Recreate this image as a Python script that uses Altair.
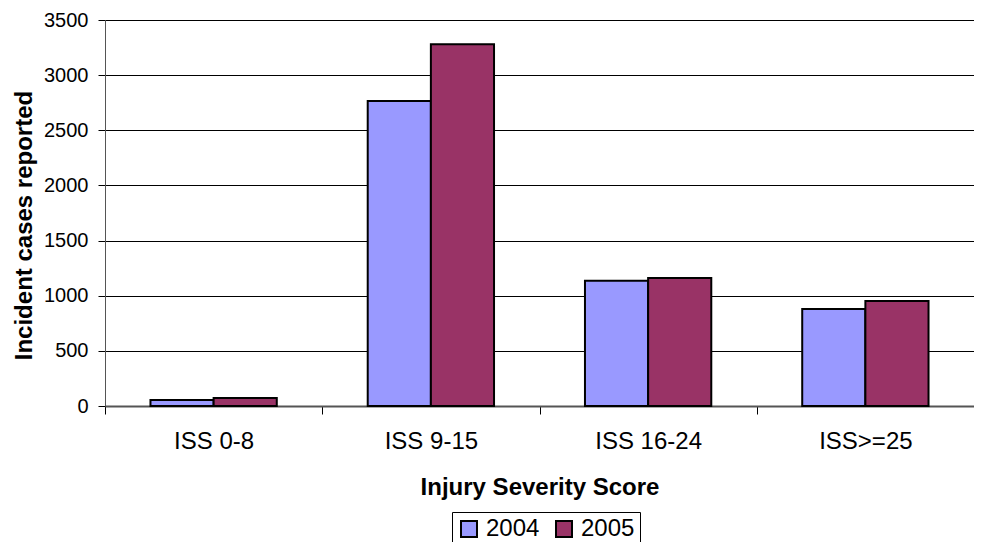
import altair as alt
import pandas as pd

categories = ["ISS 0-8", "ISS 9-15", "ISS 16-24", "ISS>=25"]
years = ["2004", "2005"]
values_2004 = [55, 2765, 1135, 880]
values_2005 = [72, 3280, 1160, 952]
y_ticks = [0, 500, 1000, 1500, 2000, 2500, 3000, 3500]
colors = ["#9999FF", "#993366"]

rows = []
for c, a, b in zip(categories, values_2004, values_2005):
    rows.append({"cat": c, "year": years[0], "value": a})
    rows.append({"cat": c, "year": years[1], "value": b})
df = pd.DataFrame(rows)

FONT = "Liberation Sans"

chart = alt.Chart(df).mark_bar(stroke="black", strokeWidth=2).encode(
    x=alt.X("cat:N", sort=categories,
            scale=alt.Scale(paddingInner=0, paddingOuter=0),
            axis=alt.Axis(title="Injury Severity Score", labelAngle=0,
                          tickBand="extent", tickSize=8, tickColor="black",
                          domainColor="#555555", domainWidth=2,
                          labelFont=FONT, labelFontSize=24, labelColor="black",
                          labelBaseline="alphabetic", labelPadding=34,
                          titleFont=FONT, titleFontSize=24, titleFontWeight="bold",
                          titleColor="black", titleBaseline="alphabetic",
                          titleY=88, grid=False)),
    xOffset=alt.XOffset("year:N", sort=years,
                        scale=alt.Scale(paddingInner=0, paddingOuter=0.72)),
    y=alt.Y("value:Q", scale=alt.Scale(domain=[0, 3500], nice=False),
            axis=alt.Axis(title="Incident cases reported", values=y_ticks, format="d",
                          tickSize=7, tickColor="black", domainColor="#555555",
                          labelFont=FONT, labelFontSize=20, labelColor="black",
                          labelPadding=10,
                          gridColor="black", gridOpacity=1, gridWidth=1,
                          titleFont=FONT, titleFontSize=24, titleFontWeight="bold",
                          titleColor="black", titleX=-81, titleY=205,
                          titleBaseline="middle", titleAlign="center")),
    color=alt.Color("year:N", sort=years,
                    scale=alt.Scale(domain=years, range=colors),
                    legend=alt.Legend(title=None, orient="none", direction="horizontal",
                                      legendX=347, legendY=492,
                                      strokeColor="black", padding=5,
                                      symbolType="square", symbolSize=256,
                                      symbolStrokeColor="black", symbolStrokeWidth=2,
                                      labelFont=FONT, labelFontSize=24, labelColor="black",
                                      labelOffset=5, columnPadding=12)),
).properties(
    width=869, height=386,
    padding={"left": 97, "top": 12, "right": 0, "bottom": 136},
    autosize=alt.AutoSizeParams(type="none"),
).configure_view(stroke=None).configure_axis(domainOpacity=1)

chart.save("out.html", embed_options={"renderer": "svg", "actions": False})
